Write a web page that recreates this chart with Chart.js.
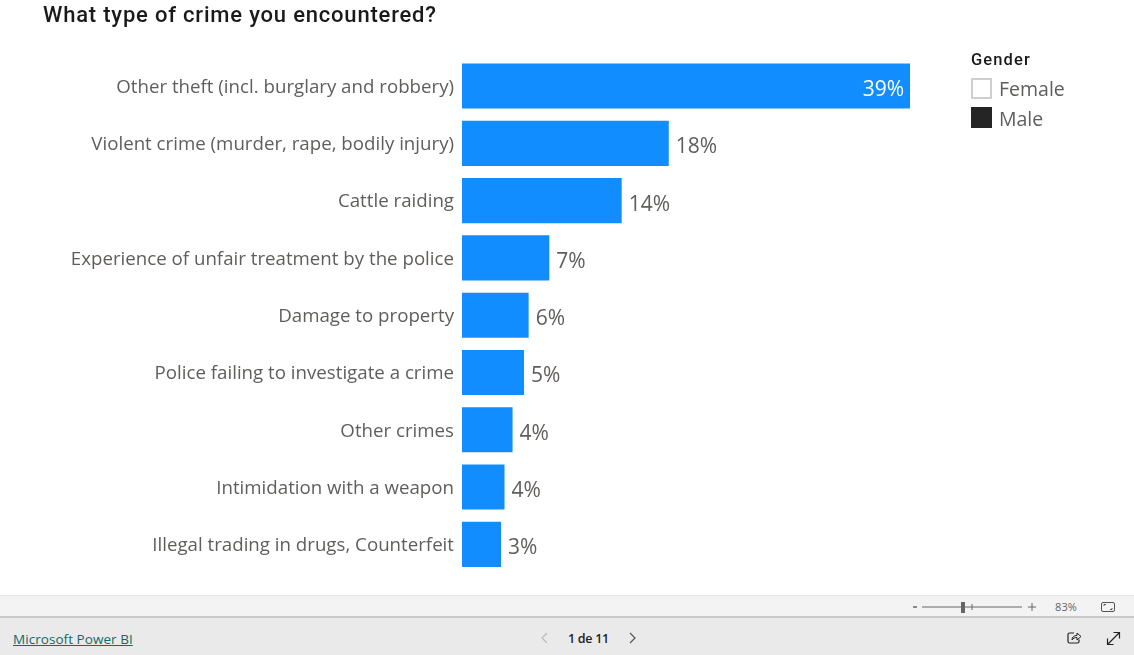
<!DOCTYPE html>
<html>
<head>
<meta charset="utf-8">
<title>What type of crime you encountered?</title>
<script src="https://cdn.jsdelivr.net/npm/chart.js@4"></script>
<style>
  html, body { margin: 0; padding: 0; background: #fff; overflow: hidden; }
  body { width: 1134px; height: 655px; position: relative; font-family: "Open Sans", sans-serif; }
  #wrap { position: absolute; left: 0; top: 0; width: 1134px; height: 595px; }
  .abs { position: absolute; white-space: nowrap; }
  #title { left: 43px; top: 1px; font: 500 22px/28px Roboto, sans-serif; letter-spacing: .8px; color: #1a1a1a; }
  #legendTitle { left: 971px; top: 49px; font: 500 16.5px/22px Roboto, sans-serif; letter-spacing: 1.1px; color: #1a1a1a; }
  .swatch { left: 971px; width: 21px; height: 21px; box-sizing: border-box; }
  .legendText { left: 999px; font-size: 19.5px; line-height: 26px; color: #605E5C; }
  #statusBar { left: 0; top: 595px; width: 1134px; height: 23px; box-sizing: border-box; background: #f3f3f3; border-top: 1px solid #e4e4e4; border-bottom: 2px solid #c8c8c8; }
  #footer { left: 0; top: 618px; width: 1134px; height: 37px; background: #eaeaea; }
  #pbiLink { left: 13px; top: 630px; font: 500 13.5px/18px "Open Sans", sans-serif; color: #0f6b6b; text-decoration: underline; letter-spacing: .05px; }
  #pager { left: 568px; top: 630px; font: 600 12.5px/17px "Open Sans", sans-serif; color: #222; letter-spacing: -.3px; }
  #zoomPct { left: 1055px; top: 600px; font: 11px/14px "Open Sans", sans-serif; color: #666; letter-spacing: .1px; }
</style>
</head>
<body>
<div id="wrap"><canvas id="crimeChart"></canvas></div>

<div class="abs" id="title">What type of crime you encountered?</div>

<div class="abs" id="legendTitle">Gender</div>
<div class="abs swatch" style="top:78px;background:#fff;border:2px solid #cfcfcf"></div>
<div class="abs legendText" style="top:76px">Female</div>
<div class="abs swatch" style="top:107px;background:#252525"></div>
<div class="abs legendText" style="top:106px">Male</div>

<div class="abs" id="statusBar"></div>
<div class="abs" id="footer"></div>
<div class="abs" id="pbiLink">Microsoft Power BI</div>
<div class="abs" id="pager">1 de 11</div>
<div class="abs" id="zoomPct">83%</div>

<svg class="abs" style="left:0;top:0;pointer-events:none" width="1134" height="655" fill="none">
  <!-- zoom slider -->
  <path d="M913 607h4" stroke="#666" stroke-width="1.5"/>
  <path d="M922 607h100" stroke="#666"/>
  <path d="M972 604v6" stroke="#666"/>
  <rect x="961" y="602" width="4" height="11" fill="#666"/>
  <path d="M1028 607h8M1032 603v8" stroke="#666"/>
  <!-- fit to page -->
  <rect x="1101.5" y="602.5" width="13" height="9" rx="1.5" stroke="#555"/>
  <path d="M1104 606v-1.5h2M1112 608v1.5h-2" stroke="#555"/>
  <!-- pager arrows -->
  <path d="M547 633l-5 5 5 5" stroke="#bbb" stroke-width="1.2"/>
  <path d="M630 633l5 5-5 5" stroke="#555" stroke-width="1.2"/>
  <!-- share -->
  <path d="M1074 633h-4.500a1.500 1.500 0 0 0-1.500 1.500v7a1.500 1.500 0 0 0 1.500 1.500h8a1.500 1.500 0 0 0 1.500-1.500v-2" stroke="#222" stroke-width="1.2"/>
  <path d="M1072 640c0-3 2-4.500 5-4.500v-2.500l4 3.500-4 3.500v-2.500c-2 0-4 .5-5 2.500z" stroke="#222"/>
  <!-- expand -->
  <path d="M1108 644l11-11M1113.500 632.500h6v6M1113.500 644.500h-6v-6" stroke="#222" stroke-width="1.2"/>
</svg>

<script>
const categories = [
  'Other theft (incl. burglary and robbery)',
  'Violent crime (murder, rape, bodily injury)',
  'Cattle raiding',
  'Experience of unfair treatment by the police',
  'Damage to property',
  'Police failing to investigate a crime',
  'Other crimes',
  'Intimidation with a weapon',
  'Illegal trading in drugs, Counterfeit'
];
// bar lengths, the printed labels are rounded
const shares = [39, 18, 13.9, 7.6, 5.8, 5.4, 4.4, 3.7, 3.4];
const shareLabels = ['39%', '18%', '14%', '7%', '6%', '5%', '4%', '4%', '3%'];

const labelFont = '"Open Sans", sans-serif';

// value labels, white inside the long bar and grey next to the others
const barLabels = {
  id: 'barLabels',
  afterDatasetsDraw(chart) {
    const { ctx } = chart;
    const bars = chart.getDatasetMeta(0).data;
    ctx.save();
    ctx.font = `21px ${labelFont}`;
    ctx.textBaseline = 'middle';
    bars.forEach((bar, i) => {
      const inside = i === 0;
      ctx.fillStyle = inside ? '#fff' : '#605E5C';
      ctx.textAlign = inside ? 'right' : 'left';
      ctx.fillText(shareLabels[i], inside ? bar.x - 6 : bar.x + 7, bar.y + 4);
    });
    ctx.restore();
  }
};

new Chart(document.getElementById('crimeChart'), {
  type: 'bar',
  data: {
    labels: categories,
    datasets: [{
      label: 'Share',
      data: shares,
      backgroundColor: '#118DFF',
      categoryPercentage: 1,
      barPercentage: 0.787
    }]
  },
  options: {
    indexAxis: 'y',
    responsive: true,
    maintainAspectRatio: false,
    animation: false,
    layout: {
      padding: { top: 57.4, right: 224, bottom: 22, left: 0 }
    },
    plugins: {
      legend: { display: false },
      tooltip: { enabled: false }
    },
    scales: {
      x: {
        display: false,
        min: 0,
        max: 39
      },
      y: {
        grid: { display: false, drawTicks: false },
        border: { display: false },
        ticks: {
          color: '#605E5C',
          padding: 8,
          labelOffset: 1.5,
          autoSkip: false,
          font: { family: labelFont, size: 18.7 }
        },
        afterFit(scale) {
          scale.width = 462; // labels end just left of the bars
        }
      }
    }
  },
  plugins: [barLabels]
});
</script>
</body>
</html>
